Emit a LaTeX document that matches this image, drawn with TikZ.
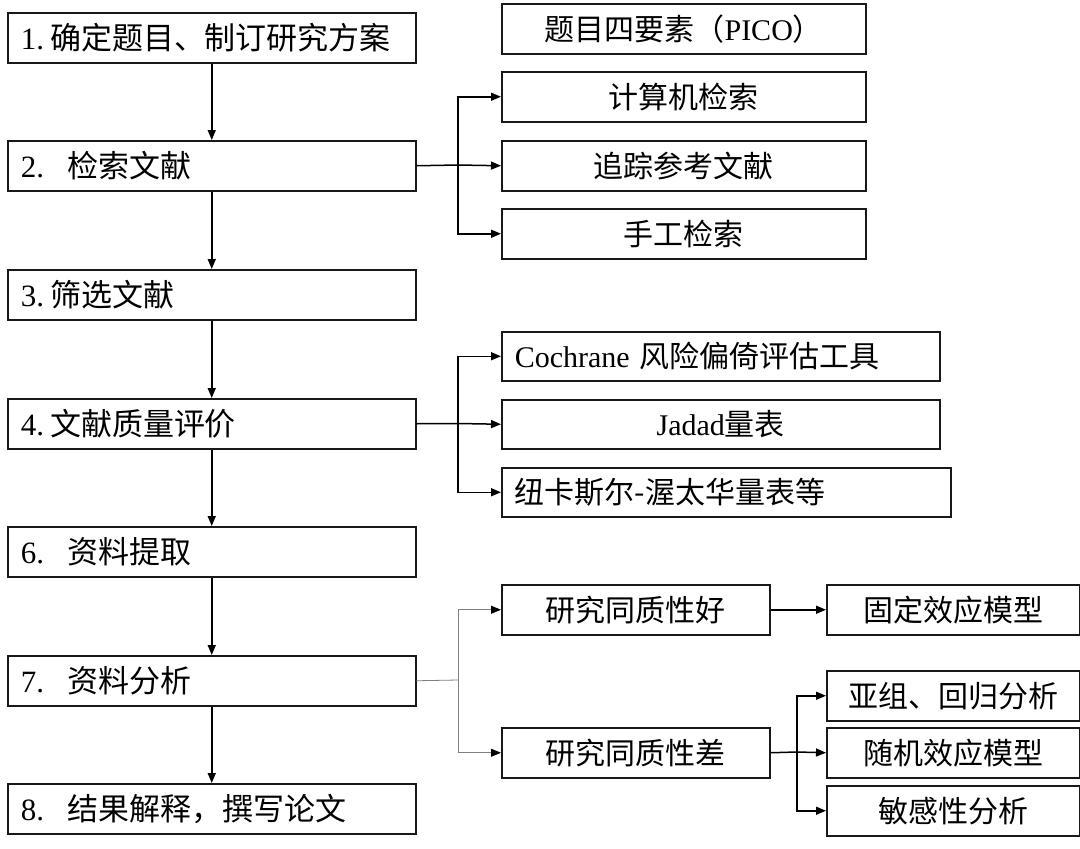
\documentclass[tikz,border=0pt]{standalone}
\usepackage{fontspec}
\setmainfont{Liberation Serif}
\newfontfamily\cjk{Noto Sans CJK SC}
\usetikzlibrary{arrows.meta}
\newcommand{\zh}[1]{{\cjk #1}}
\begin{document}
\begin{tikzpicture}[x=1pt,y=-1pt,
  box/.style={draw=black!90, line width=1.5pt, inner sep=0pt, minimum height=50pt,
    anchor=north west, font=\fontsize{30}{36}\selectfont},
  lbox/.style={box, inner xsep=13pt, text width=#1, align=left},
  mbox/.style={lbox=382pt, font=\fontsize{31}{36}\selectfont},
  cbox/.style={box, minimum width=#1},
  arr/.style={line width=1.5pt, -{Triangle[length=10pt,width=8pt]}},
  ln/.style={line width=1.5pt},
  gln/.style={line width=0.8pt, draw=black!50},
  garr/.style={gln, -{Triangle[length=10pt,width=8pt,color=black]}},
]
\useasboundingbox (0,0) rectangle (1080,849);
\fill[white] (0,0) rectangle (1080,849);

% left column
\node[mbox] (b1) at (7,12)  {1.\hspace{6pt}\zh{确定题目、制订研究方案}};
\node[mbox] (b2) at (7,140) {2.\hspace{24pt}\zh{检索文献}};
\node[mbox] (b3) at (7,269) {3.\hspace{6pt}\zh{筛选文献}};
\node[mbox] (b4) at (7,398) {4.\hspace{6pt}\zh{文献质量评价}};
\node[mbox] (b6) at (7,526) {6.\hspace{24pt}\zh{资料提取}};
\node[mbox] (b7) at (7,655) {7.\hspace{24pt}\zh{资料分析}};
\node[mbox] (b8) at (7,783) {8.\hspace{24pt}\zh{结果解释，撰写论文}};

\foreach \a/\b in {b1/b2,b2/b3,b3/b4,b4/b6,b6/b7,b7/b8}
  \draw[arr] (\a.south) -- (\b.north);

% search branch
\node[cbox=364pt] (pico) at (501,3)   {\zh{题目四要素（}PICO\zh{）}};
\node[cbox=364pt] (c1)   at (501,71)  {\zh{计算机检索}};
\node[cbox=364pt] (c2)   at (501,140) {\zh{追踪参考文献}};
\node[cbox=364pt] (c3)   at (501,208) {\zh{手工检索}};
\coordinate (j2) at (458,165);
\draw[ln] (b2.east) -- (j2);
\draw[arr] (j2) |- (c1.west);
\draw[arr] (j2) -- (c2.west);
\draw[arr] (j2) |- (c3.west);

% quality branch
\node[lbox=412pt, inner xsep=13pt, minimum height=49pt] (q1) at (501,331) {Cochrane \zh{风险偏倚评估工具}};
\node[cbox=438pt, minimum height=49pt] (q2) at (501,399) {Jadad\zh{量表}};
\node[lbox=423pt, inner xsep=13pt, minimum height=49pt] (q3) at (501,467) {\zh{纽卡斯尔-渥太华量表等}};
\coordinate (j4) at (458,423.5);
\draw[ln] (b4.east) -- (j4);
\draw[arr] (j4) |- (q1.west);
\draw[arr] (j4) -- (q2.west);
\draw[arr] (j4) |- (q3.west);

% analysis branch
\node[cbox=268pt] (good)  at (501,584) {\zh{研究同质性好}};
\node[cbox=268pt] (poor)  at (501,727) {\zh{研究同质性差}};
\node[cbox=253pt] (fixed) at (826,584) {\zh{固定效应模型}};
\node[cbox=253pt] (sub)   at (826,670) {\zh{亚组、回归分析}};
\node[cbox=253pt] (rand)  at (826,727) {\zh{随机效应模型}};
\node[cbox=253pt] (sens)  at (826,785) {\zh{敏感性分析}};
\coordinate (j7) at (458,680);
\draw[gln] (b7.east) -- (j7);
\draw[garr] (j7) |- (good.west);
\draw[garr] (j7) |- (poor.west);
\draw[arr] (good.east) -- (fixed.west);
\coordinate (j8) at (797,752);
\draw[ln] (poor.east) -- (j8);
\draw[arr] (j8) |- (sub.west);
\draw[arr] (j8) -- (rand.west);
\draw[arr] (j8) |- (sens.west);
\end{tikzpicture}
\end{document}
